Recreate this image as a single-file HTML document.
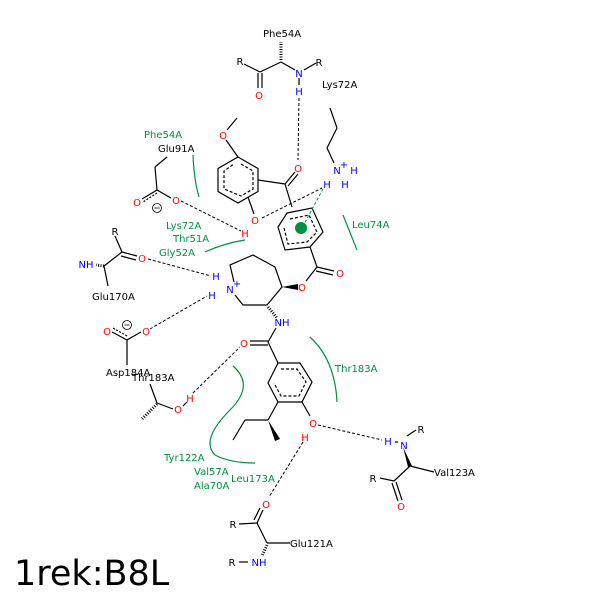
<!DOCTYPE html>
<html><head><style>body{margin:0;background:#fff}svg{display:block}text{font-family:"DejaVu Sans","Liberation Sans",sans-serif;font-size:10px}</style></head><body>
<svg width="600" height="600" viewBox="0 0 600 600" xmlns="http://www.w3.org/2000/svg">
<g stroke="#000" stroke-width="1.2" fill="none">
<line x1="244" y1="64" x2="260" y2="72"/><line x1="260" y1="72" x2="281" y2="62"/><line x1="281" y1="62" x2="295" y2="70"/><line x1="304" y1="70" x2="316" y2="63"/>
<line x1="258" y1="73" x2="258" y2="88"/><line x1="262" y1="73" x2="262" y2="88"/>
<line x1="299" y1="78" x2="299" y2="85"/>
<line x1="330" y1="108" x2="337" y2="128"/><line x1="337" y1="128" x2="327" y2="148"/><line x1="327" y1="148" x2="334" y2="163"/>
<polygon points="238,157 258,168.5 258,191.5 238,203 218,191.5 218,168.5"/>
<polyline points="241,164 253,171 253,189 241,196 224,189 224,171 234,164" stroke-dasharray="3,2"/>
<line x1="238" y1="157" x2="226" y2="140"/><line x1="227" y1="130" x2="237" y2="118"/>
<line x1="258" y1="180" x2="285" y2="184"/><line x1="285" y1="184" x2="295" y2="172"/><line x1="288" y1="186" x2="298" y2="174"/>
<line x1="285" y1="184" x2="292" y2="207"/>
<line x1="248" y1="197" x2="254" y2="214"/>
<polygon points="287,213 312,208 323,232 310,247 285,250 278,227"/>
<polyline points="290,219 309,215 317,232 307,242 288,244 284,228" stroke-dasharray="3,2"/>
<line x1="310" y1="247" x2="317" y2="267"/><line x1="317" y1="267" x2="334" y2="271"/><line x1="316" y1="271" x2="333" y2="275"/>
<line x1="317" y1="267" x2="306" y2="281"/>
<polyline points="234,282 230,265 253,255 275,267 282,287 267,305 243,305 235,295"/>
<line x1="115" y1="236" x2="122" y2="252"/><line x1="122" y1="252" x2="137" y2="256"/><line x1="121" y1="256" x2="136" y2="260"/>
<line x1="122" y1="252" x2="104" y2="266"/><line x1="104" y1="266" x2="108" y2="286"/>
<line x1="127" y1="340" x2="112" y2="332"/><line x1="127" y1="336" x2="113" y2="328" stroke-dasharray="2,1.5"/><line x1="127" y1="340" x2="141" y2="332"/><line x1="127" y1="340" x2="127" y2="365"/>
<circle cx="127" cy="325" r="4.5" stroke-width="0.8"/><line x1="124.5" y1="325" x2="129.5" y2="325" stroke-width="0.8"/>
<line x1="155" y1="167" x2="167" y2="157"/><line x1="155" y1="167" x2="157" y2="190"/><line x1="157" y1="190" x2="142" y2="199"/><line x1="157" y1="193" x2="143" y2="202" stroke-dasharray="2,1.5"/><line x1="157" y1="190" x2="171" y2="198"/>
<circle cx="157" cy="208" r="4.5" stroke-width="0.8"/><line x1="154.5" y1="208" x2="159.5" y2="208" stroke-width="0.8"/>
<line x1="268" y1="342" x2="276" y2="328"/><line x1="268" y1="341" x2="250" y2="341"/><line x1="268" y1="345" x2="250" y2="345"/>
<line x1="268" y1="342" x2="278" y2="363"/>
<polygon points="278,363 300,363 312,382 302,402 278,402 268,383"/>
<polyline points="281,369 297,369 306,382 299,396 281,396 274,383" stroke-dasharray="3,2"/>
<line x1="302" y1="402" x2="310" y2="416"/>
<line x1="278" y1="402" x2="268" y2="420"/><line x1="268" y1="420" x2="245" y2="420"/><line x1="245" y1="420" x2="233" y2="440"/>
<line x1="150" y1="384" x2="157" y2="403"/><line x1="157" y1="403" x2="173" y2="409"/><line x1="183" y1="406" x2="187" y2="402"/>
<line x1="395" y1="442" x2="398" y2="442"/><line x1="407" y1="436" x2="416" y2="430"/><line x1="410" y1="466" x2="434" y2="472"/><line x1="410" y1="466" x2="394" y2="481"/><line x1="380" y1="478" x2="394" y2="481"/>
<line x1="392" y1="483" x2="398" y2="501"/><line x1="396" y1="482" x2="402" y2="500"/>
<line x1="239" y1="524" x2="257" y2="523"/><line x1="257" y1="523" x2="263" y2="510"/><line x1="254" y1="520" x2="260" y2="508"/><line x1="257" y1="523" x2="267" y2="543"/><line x1="267" y1="543" x2="290" y2="543"/><line x1="239" y1="562" x2="248" y2="562"/>
</g>
<polygon points="268,420 275,441 280,439" fill="#000"/>
<polygon points="282,287 298,284 298,290" fill="#000"/>
<polygon points="403,447 408,467 412,466" fill="#000"/>
<g stroke="#000" stroke-width="1" stroke-dasharray="1,1.5">
<line x1="281" y1="60" x2="281" y2="42" stroke-width="3"/>
<line x1="268" y1="307" x2="277" y2="318" stroke-width="3"/>
<line x1="104" y1="266" x2="96" y2="265" stroke-width="3"/>
<line x1="157" y1="404" x2="142" y2="419" stroke-width="3"/>
<line x1="267" y1="545" x2="262" y2="556" stroke-width="3"/>
</g>
<g stroke="#000" stroke-width="1" stroke-dasharray="3,2" fill="none">
<line x1="299" y1="98" x2="298" y2="160"/>
<line x1="181" y1="201" x2="241" y2="231"/>
<line x1="262" y1="218" x2="322" y2="188"/>
<line x1="148" y1="259" x2="211" y2="276"/>
<line x1="150" y1="329" x2="207" y2="296"/>
<line x1="193" y1="393" x2="240" y2="347"/>
<line x1="318" y1="425" x2="382" y2="440"/>
<line x1="303" y1="442" x2="269" y2="497"/>
</g>
<line x1="323" y1="189" x2="303" y2="226" stroke="#009040" stroke-width="1" stroke-dasharray="3,2"/>
<circle cx="301" cy="228" r="6" fill="#009040"/>
<g stroke="#009040" stroke-width="1.2" fill="none">
<path d="M193,155 Q194,180 199,197"/>
<path d="M205,252 Q225,243 245,240"/>
<line x1="343" y1="215" x2="357" y2="250"/>
<path d="M310,337 Q335,360 337,402"/>
<path d="M233,366 Q255,385 230,410 Q200,440 215,455 Q230,463 255,463"/>
</g>
<g text-anchor="middle">
<text x="299" y="77" fill="#00f">N</text><text x="299" y="95" fill="#00f">H</text>
<text x="259" y="99" fill="#f00">O</text><text x="240" y="65">R</text><text x="319" y="66">R</text>
<text x="298" y="172" fill="#f00">O</text><text x="223" y="139" fill="#f00">O</text>
<text x="255" y="224" fill="#f00">O</text><text x="245" y="237" fill="#f00">H</text>
<text x="327" y="188" fill="#00f">H</text>
<text x="337" y="174" fill="#00f">N</text><text x="344" y="168" fill="#00f" font-size="7">+</text>
<text x="354" y="174" fill="#00f">H</text><text x="345" y="188" fill="#00f">H</text>
<text x="340" y="277" fill="#f00">O</text><text x="302" y="291" fill="#f00">O</text>
<text x="230" y="293" fill="#00f">N</text><text x="237" y="287" fill="#00f" font-size="7">+</text>
<text x="216" y="280" fill="#00f">H</text><text x="212" y="299" fill="#00f">H</text>
<text x="282" y="326" fill="#00f">NH</text><text x="244" y="347" fill="#f00">O</text>
<text x="313" y="427" fill="#f00">O</text><text x="305" y="441" fill="#f00">H</text>
<text x="178" y="413" fill="#f00">O</text><text x="190" y="402" fill="#f00">H</text>
<text x="115" y="235">R</text><text x="142" y="262" fill="#f00">O</text><text x="86" y="268" fill="#00f">NH</text>
<text x="107" y="335" fill="#f00">O</text><text x="146" y="335" fill="#f00">O</text>
<text x="137" y="206" fill="#f00">O</text><text x="176" y="204" fill="#f00">O</text>
<text x="388" y="445" fill="#00f">H</text><text x="404" y="449" fill="#00f">N</text><text x="421" y="433">R</text>
<text x="373" y="482">R</text><text x="401" y="510" fill="#f00">O</text>
<text x="266" y="508" fill="#f00">O</text><text x="233" y="528">R</text>
<text x="232" y="566">R</text><text x="259" y="566" fill="#00f">NH</text>
</g>
<g>
<text x="263" y="37">Phe54A</text><text x="322" y="88">Lys72A</text>
<text x="158" y="152">Glu91A</text><text x="92" y="300">Glu170A</text>
<text x="106" y="376">Asp184A</text><text x="132" y="381">Thr183A</text>
<text x="434" y="476">Val123A</text><text x="290" y="547">Glu121A</text>
</g>
<g fill="#009040">
<text x="144" y="138">Phe54A</text><text x="166" y="229">Lys72A</text><text x="173" y="242">Thr51A</text><text x="159" y="256">Gly52A</text>
<text x="352" y="228">Leu74A</text><text x="335" y="372">Thr183A</text>
<text x="164" y="461">Tyr122A</text><text x="194" y="475">Val57A</text><text x="194" y="489">Ala70A</text><text x="231" y="482">Leu173A</text>
</g>
<text x="14" y="585" style="font-size:35px;font-family:'DejaVu Sans','Liberation Sans',sans-serif">1rek:B8L</text>
</svg>
</body></html>
